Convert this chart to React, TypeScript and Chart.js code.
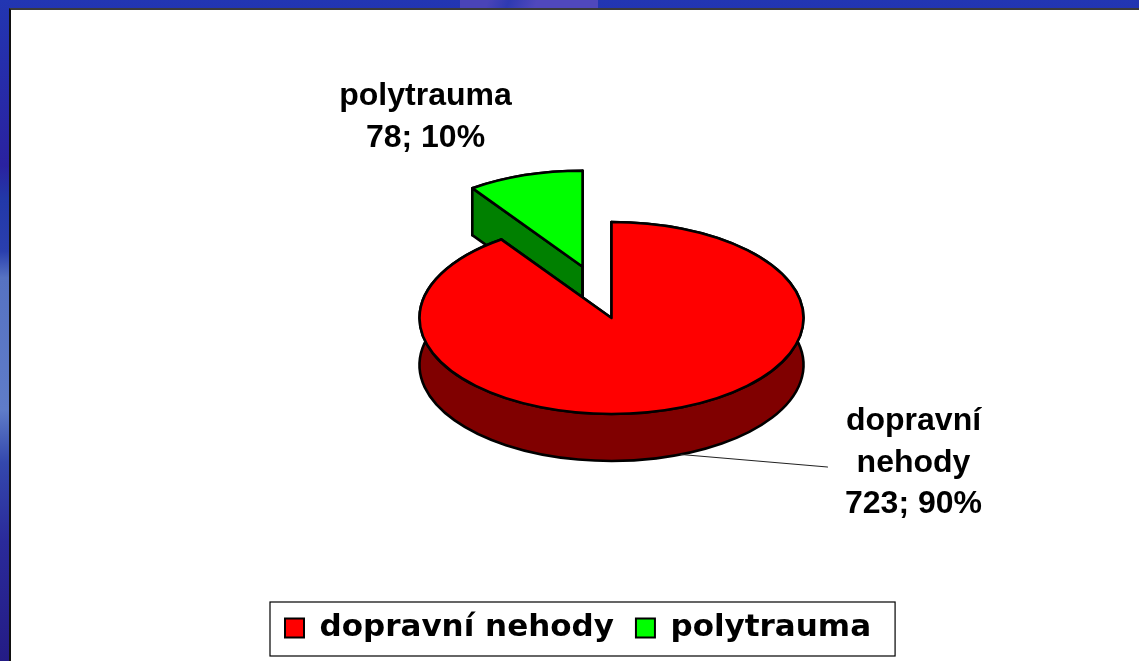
import React, { useEffect, useRef } from 'react';
import { Chart, registerables } from 'chart.js';

Chart.register(...registerables);

// ---- data ----
const categories = ['dopravní nehody', 'polytrauma'];
const values = [723, 78];

// ---- styles ----
const topColors = ['#FF0000', '#00FF00'];
const sideColors = ['#800000', '#008000'];
const explodeOffsets = [0, 96];
const RADIUS = 192;
const TILT = 0.5;
const EXPLODE_TILT = 0.56;
const DEPTH = 47;
const LABEL_POS = [
  [302, 112],
  [-186, -213],
];
const LABEL_LINE_H = 41.5;
const LEADER_T = 1.2;
const LEADER_END = [216, 149];

const pie3d = {
  id: 'pie3d',
  beforeDatasetsDraw(chart: any) {
    const ctx = chart.ctx as CanvasRenderingContext2D;
    const meta = chart.getDatasetMeta(0);
    const data = chart.data.datasets[0].data as number[];
    const labels = chart.data.labels as string[];
    const total = data.reduce((a, b) => a + b, 0);
    const slices = meta.data.map((arc: any, i: number) => {
      const p = arc.getProps(['x', 'y', 'startAngle', 'endAngle', 'outerRadius'], true);
      const off = arc.options.offset || 0;
      const mid = (p.startAngle + p.endAngle) / 2;
      return {
        i,
        x: p.x,
        y: p.y,
        cx: p.x + Math.cos(mid) * off,
        cy: p.y + Math.sin(mid) * off * EXPLODE_TILT,
        rx: p.outerRadius,
        ry: p.outerRadius * TILT,
        s: p.startAngle,
        e: p.endAngle,
      };
    });
    const order = [...slices].sort((a, b) => a.cy - b.cy);
    ctx.save();
    ctx.lineJoin = 'round';
    ctx.lineCap = 'round';
    ctx.lineWidth = 2.6;
    ctx.strokeStyle = '#000';
    for (const sl of order) {
      const { cx, cy, rx, ry, s, e, i } = sl;
      const P = (t: number, d: number): [number, number] => [cx + rx * Math.cos(t), cy + ry * Math.sin(t) + d];
      // outer curved wall
      ctx.beginPath();
      ctx.ellipse(cx, cy, rx, ry, 0, s, e);
      ctx.lineTo(...P(e, DEPTH));
      ctx.ellipse(cx, cy + DEPTH, rx, ry, 0, e, s, true);
      ctx.closePath();
      ctx.fillStyle = sideColors[i];
      ctx.fill();
      ctx.stroke();
      // radial walls
      for (const t of [s, e]) {
        ctx.beginPath();
        ctx.moveTo(cx, cy);
        ctx.lineTo(...P(t, 0));
        ctx.lineTo(...P(t, DEPTH));
        ctx.lineTo(cx, cy + DEPTH);
        ctx.closePath();
        ctx.fillStyle = sideColors[i];
        ctx.fill();
        ctx.stroke();
      }
      // top face
      ctx.beginPath();
      ctx.moveTo(cx, cy);
      ctx.ellipse(cx, cy, rx, ry, 0, s, e);
      ctx.closePath();
      ctx.fillStyle = topColors[i];
      ctx.fill();
      ctx.stroke();
    }

    // leader line for the first slice
    const s0 = slices[0];
    ctx.beginPath();
    ctx.lineWidth = 1.2;
    ctx.strokeStyle = '#222';
    ctx.moveTo(s0.cx + s0.rx * Math.cos(LEADER_T), s0.cy + s0.ry * Math.sin(LEADER_T) + DEPTH);
    ctx.lineTo(s0.x + LEADER_END[0], s0.y + LEADER_END[1]);
    ctx.stroke();

    // data labels
    ctx.font = 'bold 32px "Liberation Sans", Arial, sans-serif';
    ctx.fillStyle = '#000';
    ctx.textAlign = 'center';
    ctx.textBaseline = 'alphabetic';
    slices.forEach((sl: any) => {
      const v = data[sl.i];
      const pct = Math.round((v / total) * 100);
      const lines = [...String(labels[sl.i]).split(' '), `${v}; ${pct}%`];
      const [dx, dy] = LABEL_POS[sl.i];
      lines.forEach((ln, k) => ctx.fillText(ln, sl.x + dx, sl.y + dy + k * LABEL_LINE_H));
    });
    ctx.restore();
    return false;
  },
};

const legendBorder = {
  id: 'legendBorder',
  afterDraw(chart: any) {
    const lg = chart.legend;
    const hb = lg && lg.legendHitBoxes;
    if (!hb || !hb.length) return;
    const ctx = chart.ctx as CanvasRenderingContext2D;
    const last = hb[hb.length - 1];
    const left = hb[0].left - 15;
    const right = last.left + last.width + 24;
    const top = hb[0].top - 10.5;
    const bottom = hb[0].top + hb[0].height + 12.5;
    ctx.save();
    ctx.strokeStyle = '#000';
    ctx.lineWidth = 1.2;
    ctx.strokeRect(left, top, right - left, bottom - top);
    ctx.restore();
  },
};

export default function App() {
  const ref = useRef<HTMLCanvasElement>(null);
  useEffect(() => {
    if (!ref.current) return;
    const chart = new Chart(ref.current, {
      type: 'pie',
      data: {
        labels: categories,
        datasets: [
          {
            data: values,
            backgroundColor: topColors,
            borderColor: '#000',
            borderWidth: 2,
            offset: explodeOffsets,
            radius: RADIUS,
          } as any,
        ],
      },
      options: {
        responsive: false,
        animation: false,
        events: [],
        layout: { padding: { left: 263, right: 179, top: 45.5, bottom: 7.5 } },
        plugins: {
          legend: {
            position: 'bottom',
            align: 'start',
            labels: {
              color: '#000',
              boxWidth: 19,
              boxHeight: 19,
              padding: 22,
              font: { family: '"DejaVu Sans", Tahoma, sans-serif', size: 31, weight: 'bold' },
            },
          },
          tooltip: { enabled: false },
        },
      } as any,
      plugins: [pie3d, legendBorder],
    });
    return () => chart.destroy();
  }, []);

  return (
    <div
      style={{
        position: 'fixed',
        left: 0,
        top: 0,
        width: 1139,
        height: 661,
        overflow: 'hidden',
        background:
          'linear-gradient(180deg, #2236b2 0%, #2a22a0 25%, #2238a8 30%, #2a3fae 38%, #5672c2 42%, #5f7cc8 62%, #3448ad 70%, #2a2a9a 82%, #241c85 100%)',
      }}
    >
      <div
        style={{
          position: 'absolute',
          left: 460,
          top: 0,
          width: 138,
          height: 8,
          background: 'linear-gradient(110deg, #4a44b8 0%, #4a44b8 20%, #2e3ab2 35%, #5048bc 55%, #5048bc 100%)',
        }}
      />
      <div
        style={{
          position: 'absolute',
          left: 9,
          top: 8,
          right: 0,
          bottom: 0,
          background: '#fff',
          borderTop: '2px solid #3a3a3a',
          borderLeft: '2px solid #111',
        }}
      />
      <canvas ref={ref} width={1139} height={661} style={{ position: 'absolute', left: 0, top: 0 }} />
    </div>
  );
}
